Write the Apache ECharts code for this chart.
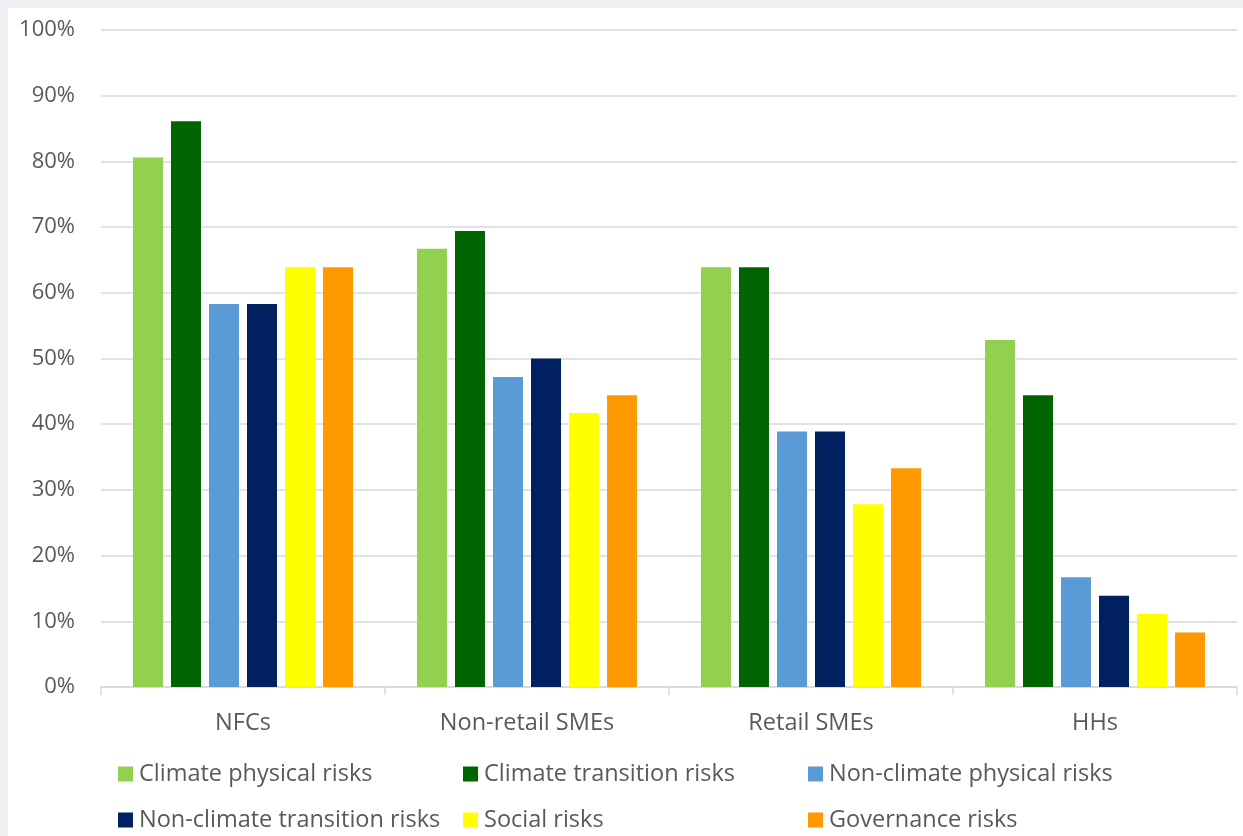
<!DOCTYPE html>
<html><head><meta charset="utf-8">
<script src="https://cdn.jsdelivr.net/npm/echarts@6/dist/echarts.min.js"></script>
<style>
html,body{margin:0;padding:0;background:#efeff4;width:1243px;height:836px;overflow:hidden}
#c{position:absolute;left:8px;top:8px;width:1235px;height:828px;background:#fff}
</style></head><body><div id="c"></div>
<script>
const categories = ["NFCs", "Non-retail SMEs", "Retail SMEs", "HHs"];
const seriesNames = ["Climate physical risks", "Climate transition risks", "Non-climate physical risks", "Non-climate transition risks", "Social risks", "Governance risks"];
const climatePhysical = [80.6, 66.7, 63.9, 52.8];
const climateTransition = [86.1, 69.4, 63.9, 44.4];
const nonClimatePhysical = [58.3, 47.2, 38.9, 16.7];
const nonClimateTransition = [58.3, 50.0, 38.9, 13.9];
const social = [63.9, 41.7, 27.8, 11.1];
const governance = [63.9, 44.4, 33.3, 8.3];
const yTicks = [0, 10, 20, 30, 40, 50, 60, 70, 80, 90, 100];
const colors = ["#92d050", "#006400", "#5b9bd5", "#002060", "#ffff00", "#ff9900"];
const values = [climatePhysical, climateTransition, nonClimatePhysical, nonClimateTransition, social, governance];

const font = "'Open Sans', sans-serif";
const legendPos = [[105, 749], [450, 749], [795, 749], [105, 795], [450, 795], [795, 795]];
const chart = echarts.init(document.getElementById('c'));
chart.setOption({
  animation: false,
  grid: {left: 93, right: 6, top: 22, bottom: 149},
  legend: seriesNames.map((n, i) => ({
    data: [n], left: legendPos[i][0], top: legendPos[i][1],
    itemWidth: 15, itemHeight: 15, itemGap: 6, icon: 'rect',
    textStyle: {fontSize: 23.5, color: '#595959', fontFamily: font, padding: [0, 0, 0, 1]}
  })),
  xAxis: {
    type: 'category', data: categories,
    axisLine: {lineStyle: {color: '#d9d9d9', width: 1.5}},
    axisTick: {show: true, length: 8, lineStyle: {color: '#d9d9d9', width: 1.5}},
    axisLabel: {fontSize: 23.5, color: '#595959', fontFamily: font, margin: 24}
  },
  yAxis: {
    type: 'value', min: 0, max: 100, interval: 10,
    axisLabel: {formatter: v => yTicks.includes(v) ? v + '%' : '', fontSize: 22, color: '#595959', fontFamily: font, margin: 26},
    splitLine: {lineStyle: {color: '#d9d9d9', width: 1.5}},
    axisLine: {show: false}, axisTick: {show: false}
  },
  series: seriesNames.map((n, i) => ({
    name: n, type: 'bar', data: values[i], barWidth: 30, barGap: '26.7%', barCategoryGap: '22.5%',
    itemStyle: {color: colors[i]}
  }))
});
</script></body></html>
